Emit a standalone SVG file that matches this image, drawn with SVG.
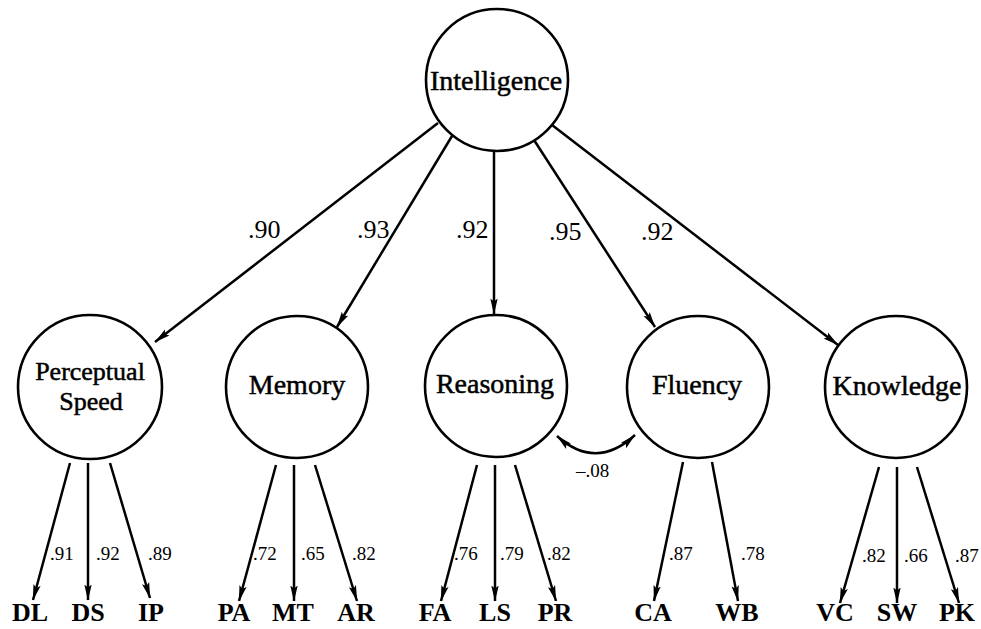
<svg xmlns="http://www.w3.org/2000/svg" width="981" height="629" viewBox="0 0 981 629">
  <style>
    text { font-family: "Liberation Serif", "DejaVu Serif", "Noto Serif", Times, serif; fill: #000; }
    .node circle { fill: #fff; stroke: #000; stroke-width: 2.6; }
    .lbl { font-size: 28px; stroke: #000; stroke-width: 0.5; text-anchor: middle; }
    .lbl2 { font-size: 26px; stroke: #000; stroke-width: 0.5; text-anchor: middle; }
    .obs { font-size: 26px; font-weight: bold; text-anchor: middle; }
    .w1 { font-size: 26px; }
    .w2 { font-size: 19px; }
    .edge { fill: none; stroke: #000; stroke-width: 2.5; marker-end: url(#head); }
  </style>
  <defs>
    <marker id="head" viewBox="0 0 16 10" markerUnits="userSpaceOnUse" markerWidth="16" markerHeight="10" refX="15.5" refY="5" orient="auto">
      <path d="M0,1.3 L16,5 L0,8.7 L3,5 z" fill="#000"/>
    </marker>
    <marker id="head2" viewBox="0 0 16 10" markerUnits="userSpaceOnUse" markerWidth="16" markerHeight="10" refX="15.5" refY="5" orient="auto-start-reverse">
      <path d="M0,1.3 L16,5 L0,8.7 L3,5 z" fill="#000"/>
    </marker>
  </defs>

  <!-- connectors -->
  <g id="connectors">
    <!-- second-order loadings -->
    <line class="edge" x1="438" y1="123" x2="155" y2="342"/>
    <line class="edge" x1="452" y1="136" x2="337" y2="327"/>
    <line class="edge" x1="494" y1="151" x2="494" y2="314"/>
    <line class="edge" x1="534" y1="140" x2="655" y2="327"/>
    <line class="edge" x1="552" y1="125" x2="838" y2="345"/>

    <!-- Perceptual Speed indicators -->
    <line class="edge" x1="70" y1="463" x2="33" y2="600"/>
    <line class="edge" x1="88" y1="463" x2="88" y2="600"/>
    <line class="edge" x1="110" y1="463" x2="150" y2="598"/>
    <!-- Memory indicators -->
    <line class="edge" x1="276" y1="465" x2="239" y2="601"/>
    <line class="edge" x1="294" y1="465" x2="294" y2="601"/>
    <line class="edge" x1="315" y1="465" x2="357" y2="601"/>
    <!-- Reasoning indicators -->
    <line class="edge" x1="477" y1="465" x2="441" y2="601"/>
    <line class="edge" x1="495" y1="465" x2="495" y2="601"/>
    <line class="edge" x1="515" y1="465" x2="556" y2="601"/>
    <!-- Fluency indicators -->
    <line class="edge" x1="683" y1="462" x2="654" y2="601"/>
    <line class="edge" x1="712" y1="462" x2="738" y2="601"/>
    <!-- Knowledge indicators -->
    <line class="edge" x1="879" y1="467" x2="840" y2="603"/>
    <line class="edge" x1="897" y1="467" x2="897" y2="603"/>
    <line class="edge" x1="917" y1="467" x2="959" y2="603"/>

    <!-- residual correlation Reasoning / Fluency -->
    <path d="M557,436 Q596,471 635,435" fill="none" stroke="#000" stroke-width="2.5" marker-start="url(#head2)" marker-end="url(#head2)"/>

    <!-- loading values -->
    <text class="w1" x="248" y="238">.90</text>
    <text class="w1" x="357" y="238">.93</text>
    <text class="w1" x="456" y="238">.92</text>
    <text class="w1" x="549" y="240">.95</text>
    <text class="w1" x="641" y="240">.92</text>

    <text class="w2" x="50" y="560">.91</text>
    <text class="w2" x="96" y="560">.92</text>
    <text class="w2" x="148" y="560">.89</text>
    <text class="w2" x="253" y="560">.72</text>
    <text class="w2" x="301" y="560">.65</text>
    <text class="w2" x="352" y="560">.82</text>
    <text class="w2" x="454" y="560">.76</text>
    <text class="w2" x="500" y="560">.79</text>
    <text class="w2" x="547" y="560">.82</text>
    <text class="w2" x="669" y="560">.87</text>
    <text class="w2" x="741" y="560">.78</text>
    <text class="w2" x="862" y="562">.82</text>
    <text class="w2" x="904" y="562">.66</text>
    <text class="w2" x="955" y="562">.87</text>

    <text class="w2" x="576" y="477">–.08</text>
  </g>

  <!-- latent factors -->
  <g id="intelligence" class="node">
    <circle cx="497" cy="80" r="71"/>
    <text class="lbl" x="496" y="90">Intelligence</text>
  </g>
  <g id="perceptual-speed" class="node">
    <circle cx="90" cy="387" r="72"/>
    <text class="lbl2" x="90" y="380">Perceptual</text>
    <text class="lbl2" x="91" y="410">Speed</text>
  </g>
  <g id="memory" class="node">
    <circle cx="297" cy="387" r="71"/>
    <text class="lbl" x="297" y="394">Memory</text>
  </g>
  <g id="reasoning" class="node">
    <circle cx="496" cy="386" r="71"/>
    <text class="lbl" x="495" y="393">Reasoning</text>
  </g>
  <g id="fluency" class="node">
    <circle cx="698" cy="387" r="71"/>
    <text class="lbl" x="697" y="394">Fluency</text>
  </g>
  <g id="knowledge" class="node">
    <circle cx="896" cy="387" r="71"/>
    <text class="lbl" x="897" y="395">Knowledge</text>
  </g>

  <!-- observed tests -->
  <g id="DL"><text class="obs" x="30" y="621">DL</text></g>
  <g id="DS"><text class="obs" x="88" y="621">DS</text></g>
  <g id="IP"><text class="obs" x="151" y="621">IP</text></g>
  <g id="PA"><text class="obs" x="234" y="621">PA</text></g>
  <g id="MT"><text class="obs" x="293" y="621">MT</text></g>
  <g id="AR"><text class="obs" x="356" y="621">AR</text></g>
  <g id="FA"><text class="obs" x="435" y="621">FA</text></g>
  <g id="LS"><text class="obs" x="495" y="621">LS</text></g>
  <g id="PR"><text class="obs" x="555" y="621">PR</text></g>
  <g id="CA"><text class="obs" x="653" y="621">CA</text></g>
  <g id="WB"><text class="obs" x="737" y="621">WB</text></g>
  <g id="VC"><text class="obs" x="835" y="621">VC</text></g>
  <g id="SW"><text class="obs" x="897" y="621">SW</text></g>
  <g id="PK"><text class="obs" x="957" y="621">PK</text></g>
</svg>
